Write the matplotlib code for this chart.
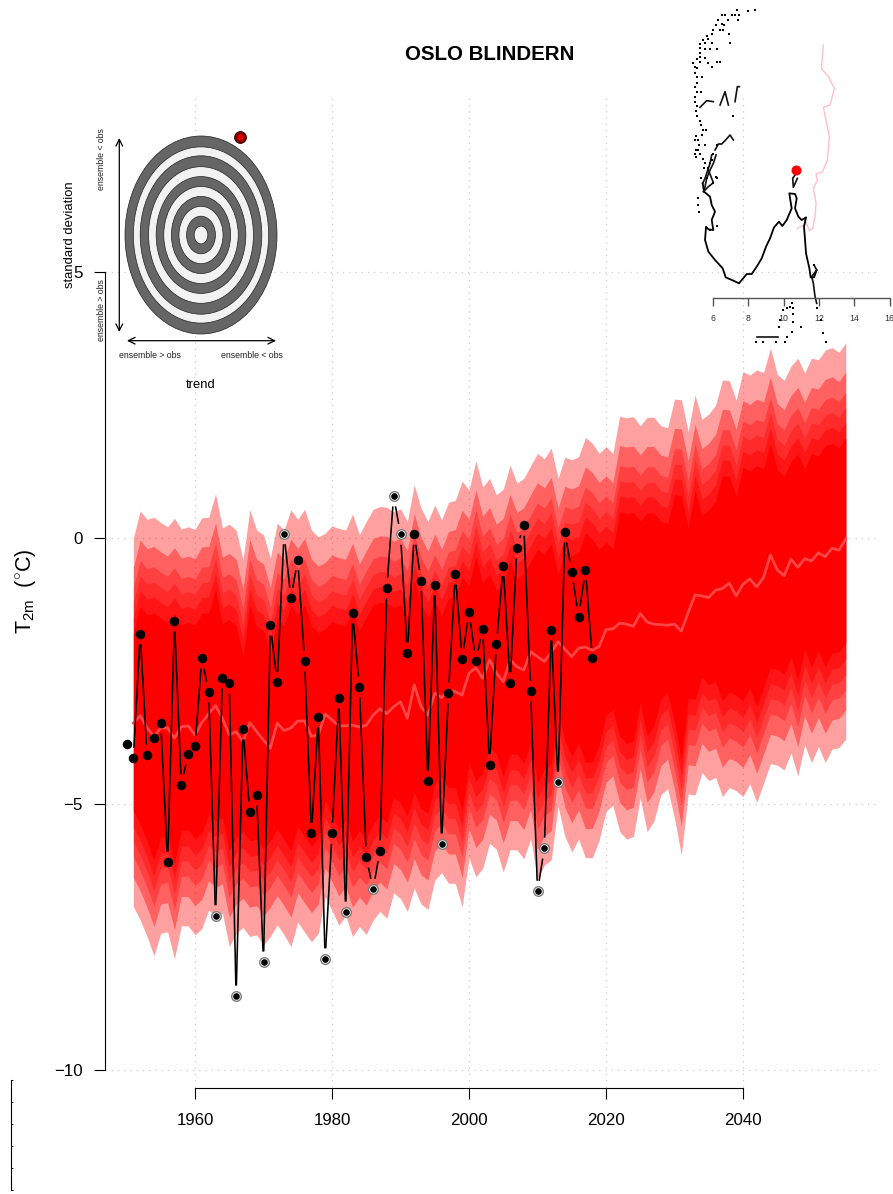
import numpy as np
import matplotlib
matplotlib.use("Agg")
import matplotlib.pyplot as plt
from matplotlib.patches import Ellipse

plt.rcParams['font.family'] = ['Liberation Sans', 'DejaVu Sans']
plt.rcParams['mathtext.fontset'] = 'custom'
plt.rcParams['mathtext.rm'] = 'Liberation Sans'

# ---------------------------------
# 1. Observations, 1950-2018
# ---------------------------------
obs_years = np.arange(1950, 2019)
obs = [-3.87, -4.14, -1.80, -4.08, -3.76, -3.48, -6.09, -1.56, -4.64, -4.06,
       -3.91, -2.26, -2.89, -7.10, -2.63, -2.73, -8.61, -3.59, -5.15, -4.83,
       -7.97, -1.64, -2.71, 0.08, -1.13, -0.41, -2.31, -5.55, -3.36, -7.91,
       -5.55, -3.01, -7.03, -1.41, -2.80, -6.00, -6.60, -5.88, -0.94, 0.79,
       0.07, -2.16, 0.07, -0.80, -4.57, -0.88, -5.75, -2.91, -0.68, -2.27,
       -1.39, -2.31, -1.71, -4.26, -1.99, -0.52, -2.72, -0.19, 0.24, -2.88,
       -6.64, -5.83, -1.73, -4.59, 0.11, -0.64, -1.48, -0.60, -2.26]
ringed_years = [1963, 1966, 1970, 1973, 1979, 1982, 1986, 1989, 1990, 1996, 2010, 2011, 2013]

# ---------------------------------
# 2. Ensemble bands, 1951-2055
# ---------------------------------
years = np.arange(1951, 2056)
ens_mean = [-3.48, -3.34, -3.57, -3.73, -3.57, -3.57, -3.76, -3.55, -3.53, -3.70,
            -3.47, -3.30, -3.15, -3.39, -3.70, -3.64, -3.83, -3.47, -3.64, -3.80,
            -3.95, -3.48, -3.62, -3.57, -3.44, -3.44, -3.73, -3.70, -3.31, -3.42,
            -3.53, -3.53, -3.52, -3.55, -3.52, -3.33, -3.21, -3.30, -3.17, -3.08,
            -3.39, -2.76, -3.17, -3.33, -2.92, -3.00, -2.86, -2.89, -2.95, -2.54,
            -2.44, -2.64, -2.29, -2.54, -2.70, -2.29, -2.42, -2.48, -2.14, -2.23,
            -2.32, -2.15, -1.95, -2.09, -2.23, -2.07, -2.05, -2.11, -2.04, -1.72,
            -1.71, -1.60, -1.62, -1.66, -1.42, -1.58, -1.62, -1.63, -1.64, -1.62,
            -1.75, -1.40, -1.07, -1.09, -1.12, -0.98, -0.95, -0.85, -1.09, -0.87,
            -0.77, -0.92, -0.74, -0.32, -0.60, -0.71, -0.40, -0.55, -0.39, -0.43,
            -0.28, -0.35, -0.19, -0.23, -0.02]

up1 = [0.00, 0.51, 0.35, 0.39, 0.29, 0.21, 0.37, 0.17, 0.21, 0.16,
       0.38, 0.39, 0.83, 0.19, 0.26, 0.15, -0.41, 0.53, 0.15, 0.06,
       -0.38, 0.28, 0.15, 0.53, 0.35, 0.54, 0.15, 0.02, 0.09, 0.23,
       0.18, 0.15, 0.45, 0.06, 0.31, 0.54, 0.59, 0.58, 0.49, 0.55,
       0.31, 1.00, 0.56, 0.31, 0.62, 0.34, 0.67, 0.71, 1.07, 0.90,
       1.45, 0.96, 1.12, 0.81, 0.92, 1.37, 1.03, 1.12, 1.36, 1.59,
       1.49, 1.69, 1.12, 1.52, 1.47, 1.53, 1.89, 1.78, 1.59, 1.72,
       1.59, 2.29, 2.26, 2.28, 2.11, 2.27, 2.27, 2.11, 2.07, 2.61,
       2.60, 2.00, 2.69, 2.23, 2.33, 2.50, 2.97, 2.96, 2.59, 3.13,
       3.06, 3.16, 3.11, 3.57, 3.08, 2.96, 3.23, 3.38, 3.10, 3.38,
       3.35, 3.53, 3.58, 3.49, 3.67]
up2 = [-0.55, -0.04, -0.20, -0.16, -0.26, -0.34, -0.18, -0.38, -0.34, -0.39,
       -0.17, -0.16, 0.28, -0.36, -0.29, -0.40, -0.96, -0.02, -0.40, -0.49,
       -0.93, -0.27, -0.40, -0.02, -0.20, -0.01, -0.40, -0.53, -0.46, -0.32,
       -0.37, -0.40, -0.10, -0.49, -0.24, -0.01, 0.04, 0.03, -0.06, 0.00,
       -0.24, 0.45, 0.01, -0.24, 0.07, -0.21, 0.12, 0.16, 0.52, 0.35,
       0.90, 0.41, 0.57, 0.26, 0.37, 0.82, 0.48, 0.57, 0.81, 1.04,
       0.94, 1.14, 0.57, 0.97, 0.92, 0.98, 1.34, 1.23, 1.04, 1.17,
       1.04, 1.74, 1.71, 1.73, 1.56, 1.72, 1.72, 1.56, 1.52, 2.06,
       2.05, 1.45, 2.14, 1.68, 1.78, 1.95, 2.42, 2.41, 2.04, 2.58,
       2.51, 2.61, 2.56, 3.02, 2.53, 2.41, 2.68, 2.83, 2.55, 2.83,
       2.80, 2.98, 3.03, 2.94, 3.12]
up3 = [-0.93, -0.42, -0.58, -0.54, -0.64, -0.72, -0.56, -0.76, -0.72, -0.77,
       -0.55, -0.54, -0.10, -0.74, -0.67, -0.78, -1.34, -0.40, -0.78, -0.87,
       -1.31, -0.65, -0.78, -0.40, -0.58, -0.39, -0.78, -0.91, -0.84, -0.70,
       -0.75, -0.78, -0.48, -0.87, -0.62, -0.39, -0.34, -0.35, -0.44, -0.38,
       -0.62, 0.07, -0.37, -0.62, -0.31, -0.59, -0.26, -0.22, 0.14, -0.03,
       0.52, 0.03, 0.19, -0.12, -0.01, 0.44, 0.10, 0.19, 0.43, 0.66,
       0.56, 0.76, 0.19, 0.59, 0.54, 0.60, 0.96, 0.85, 0.66, 0.79,
       0.66, 1.36, 1.33, 1.35, 1.18, 1.34, 1.34, 1.18, 1.14, 1.68,
       1.67, 1.07, 1.76, 1.30, 1.40, 1.57, 2.04, 2.03, 1.66, 2.20,
       2.13, 2.23, 2.18, 2.64, 2.15, 2.03, 2.30, 2.45, 2.17, 2.45,
       2.42, 2.60, 2.65, 2.56, 2.74]
up4 = [-1.22, -0.71, -0.87, -0.83, -0.93, -1.01, -0.85, -1.05, -1.01, -1.06,
       -0.84, -0.83, -0.39, -1.03, -0.96, -1.07, -1.63, -0.69, -1.07, -1.16,
       -1.60, -0.94, -1.07, -0.69, -0.87, -0.68, -1.07, -1.20, -1.13, -0.99,
       -1.04, -1.07, -0.77, -1.16, -0.91, -0.68, -0.63, -0.64, -0.73, -0.67,
       -0.91, -0.22, -0.66, -0.91, -0.60, -0.88, -0.55, -0.51, -0.15, -0.32,
       0.23, -0.26, -0.10, -0.41, -0.30, 0.15, -0.19, -0.10, 0.14, 0.37,
       0.27, 0.47, -0.10, 0.30, 0.25, 0.31, 0.67, 0.56, 0.37, 0.50,
       0.37, 1.07, 1.04, 1.06, 0.89, 1.05, 1.05, 0.89, 0.85, 1.39,
       1.38, 0.78, 1.47, 1.01, 1.11, 1.28, 1.75, 1.74, 1.37, 1.91,
       1.84, 1.94, 1.89, 2.35, 1.86, 1.74, 2.01, 2.16, 1.88, 2.16,
       2.13, 2.31, 2.36, 2.27, 2.45]
up5 = [-1.50, -0.99, -1.15, -1.11, -1.21, -1.29, -1.13, -1.33, -1.29, -1.34,
       -1.12, -1.11, -0.67, -1.31, -1.24, -1.35, -1.91, -0.97, -1.35, -1.44,
       -1.88, -1.22, -1.35, -0.97, -1.15, -0.96, -1.35, -1.48, -1.41, -1.27,
       -1.32, -1.35, -1.05, -1.44, -1.19, -0.96, -0.91, -0.92, -1.01, -0.95,
       -1.19, -0.50, -0.94, -1.19, -0.88, -1.16, -0.83, -0.79, -0.43, -0.60,
       -0.05, -0.54, -0.38, -0.69, -0.58, -0.13, -0.47, -0.38, -0.14, 0.09,
       -0.01, 0.19, -0.38, 0.02, -0.03, 0.03, 0.39, 0.28, 0.09, 0.22,
       0.09, 0.79, 0.76, 0.78, 0.61, 0.77, 0.77, 0.61, 0.57, 1.11,
       1.10, 0.50, 1.19, 0.73, 0.83, 1.00, 1.47, 1.46, 1.09, 1.63,
       1.56, 1.66, 1.61, 2.07, 1.58, 1.46, 1.73, 1.88, 1.60, 1.88,
       1.85, 2.03, 2.08, 1.99, 2.17]
up6 = [-1.80, -1.29, -1.45, -1.41, -1.51, -1.59, -1.43, -1.63, -1.59, -1.64,
       -1.42, -1.41, -0.97, -1.61, -1.54, -1.65, -2.21, -1.27, -1.65, -1.74,
       -2.18, -1.52, -1.65, -1.27, -1.45, -1.26, -1.65, -1.78, -1.71, -1.57,
       -1.62, -1.65, -1.35, -1.74, -1.49, -1.26, -1.21, -1.22, -1.31, -1.25,
       -1.49, -0.80, -1.24, -1.49, -1.18, -1.46, -1.13, -1.09, -0.73, -0.90,
       -0.35, -0.84, -0.68, -0.99, -0.88, -0.43, -0.77, -0.68, -0.44, -0.21,
       -0.31, -0.11, -0.68, -0.28, -0.33, -0.27, 0.09, -0.02, -0.21, -0.08,
       -0.21, 0.49, 0.46, 0.48, 0.31, 0.47, 0.47, 0.31, 0.27, 0.81,
       0.80, 0.20, 0.89, 0.43, 0.53, 0.70, 1.17, 1.16, 0.79, 1.33,
       1.26, 1.36, 1.31, 1.77, 1.28, 1.16, 1.43, 1.58, 1.30, 1.58,
       1.55, 1.73, 1.78, 1.69, 1.87]

lo1 = [-6.93, -7.18, -7.49, -7.85, -7.43, -7.40, -7.91, -7.29, -7.29, -7.46,
       -7.34, -6.99, -7.12, -7.05, -7.68, -7.43, -7.32, -7.49, -7.46, -7.65,
       -7.49, -7.27, -7.46, -7.68, -7.22, -7.41, -7.59, -7.43, -6.74, -7.00,
       -7.28, -7.10, -7.49, -7.30, -7.45, -7.18, -7.02, -7.15, -6.67, -6.78,
       -7.02, -6.58, -6.88, -6.98, -6.43, -6.29, -6.49, -6.49, -6.93, -6.01,
       -6.37, -6.21, -5.74, -5.85, -6.28, -5.86, -5.86, -6.03, -5.65, -6.40,
       -6.15, -6.05, -5.04, -5.61, -5.90, -5.66, -6.01, -6.01, -5.68, -5.14,
       -5.02, -5.52, -5.66, -5.61, -4.89, -5.52, -5.32, -4.83, -4.71, -5.27,
       -5.96, -4.81, -4.83, -4.41, -4.56, -4.50, -4.86, -4.69, -4.75, -4.86,
       -4.62, -4.97, -4.61, -4.24, -4.27, -4.36, -4.04, -4.47, -3.89, -4.22,
       -3.92, -4.22, -3.97, -3.94, -3.78]
lo2 = [-6.38, -6.63, -6.94, -7.30, -6.88, -6.85, -7.36, -6.74, -6.74, -6.91,
       -6.79, -6.44, -6.57, -6.50, -7.13, -6.88, -6.77, -6.94, -6.91, -7.10,
       -6.94, -6.72, -6.91, -7.13, -6.67, -6.86, -7.04, -6.88, -6.19, -6.45,
       -6.73, -6.55, -6.94, -6.75, -6.90, -6.63, -6.47, -6.60, -6.12, -6.23,
       -6.47, -6.03, -6.33, -6.43, -5.88, -5.74, -5.94, -5.94, -6.38, -5.46,
       -5.82, -5.66, -5.19, -5.30, -5.73, -5.31, -5.31, -5.48, -5.10, -5.85,
       -5.60, -5.50, -4.49, -5.06, -5.35, -5.11, -5.46, -5.46, -5.13, -4.59,
       -4.47, -4.97, -5.11, -5.06, -4.34, -4.97, -4.77, -4.28, -4.16, -4.72,
       -5.41, -4.26, -4.28, -3.86, -4.01, -3.95, -4.31, -4.14, -4.20, -4.31,
       -4.07, -4.42, -4.06, -3.69, -3.72, -3.81, -3.49, -3.92, -3.34, -3.67,
       -3.37, -3.67, -3.42, -3.39, -3.23]
lo3 = [-6.00, -6.25, -6.56, -6.92, -6.50, -6.47, -6.98, -6.36, -6.36, -6.53,
       -6.41, -6.06, -6.19, -6.12, -6.75, -6.50, -6.39, -6.56, -6.53, -6.72,
       -6.56, -6.34, -6.53, -6.75, -6.29, -6.48, -6.66, -6.50, -5.81, -6.07,
       -6.35, -6.17, -6.56, -6.37, -6.52, -6.25, -6.09, -6.22, -5.74, -5.85,
       -6.09, -5.65, -5.95, -6.05, -5.50, -5.36, -5.56, -5.56, -6.00, -5.08,
       -5.44, -5.28, -4.81, -4.92, -5.35, -4.93, -4.93, -5.10, -4.72, -5.47,
       -5.22, -5.12, -4.11, -4.68, -4.97, -4.73, -5.08, -5.08, -4.75, -4.21,
       -4.09, -4.59, -4.73, -4.68, -3.96, -4.59, -4.39, -3.90, -3.78, -4.34,
       -5.03, -3.88, -3.90, -3.48, -3.63, -3.57, -3.93, -3.76, -3.82, -3.93,
       -3.69, -4.04, -3.68, -3.31, -3.34, -3.43, -3.11, -3.54, -2.96, -3.29,
       -2.99, -3.29, -3.04, -3.01, -2.85]
lo4 = [-5.71, -5.96, -6.27, -6.63, -6.21, -6.18, -6.69, -6.07, -6.07, -6.24,
       -6.12, -5.77, -5.90, -5.83, -6.46, -6.21, -6.10, -6.27, -6.24, -6.43,
       -6.27, -6.05, -6.24, -6.46, -6.00, -6.19, -6.37, -6.21, -5.52, -5.78,
       -6.06, -5.88, -6.27, -6.08, -6.23, -5.96, -5.80, -5.93, -5.45, -5.56,
       -5.80, -5.36, -5.66, -5.76, -5.21, -5.07, -5.27, -5.27, -5.71, -4.79,
       -5.15, -4.99, -4.52, -4.63, -5.06, -4.64, -4.64, -4.81, -4.43, -5.18,
       -4.93, -4.83, -3.82, -4.39, -4.68, -4.44, -4.79, -4.79, -4.46, -3.92,
       -3.80, -4.30, -4.44, -4.39, -3.67, -4.30, -4.10, -3.61, -3.49, -4.05,
       -4.74, -3.59, -3.61, -3.19, -3.34, -3.28, -3.64, -3.47, -3.53, -3.64,
       -3.40, -3.75, -3.39, -3.02, -3.05, -3.14, -2.82, -3.25, -2.67, -3.00,
       -2.70, -3.00, -2.75, -2.72, -2.56]
lo5 = [-5.43, -5.68, -5.99, -6.35, -5.93, -5.90, -6.41, -5.79, -5.79, -5.96,
       -5.84, -5.49, -5.62, -5.55, -6.18, -5.93, -5.82, -5.99, -5.96, -6.15,
       -5.99, -5.77, -5.96, -6.18, -5.72, -5.91, -6.09, -5.93, -5.24, -5.50,
       -5.78, -5.60, -5.99, -5.80, -5.95, -5.68, -5.52, -5.65, -5.17, -5.28,
       -5.52, -5.08, -5.38, -5.48, -4.93, -4.79, -4.99, -4.99, -5.43, -4.51,
       -4.87, -4.71, -4.24, -4.35, -4.78, -4.36, -4.36, -4.53, -4.15, -4.90,
       -4.65, -4.55, -3.54, -4.11, -4.40, -4.16, -4.51, -4.51, -4.18, -3.64,
       -3.52, -4.02, -4.16, -4.11, -3.39, -4.02, -3.82, -3.33, -3.21, -3.77,
       -4.46, -3.31, -3.33, -2.91, -3.06, -3.00, -3.36, -3.19, -3.25, -3.36,
       -3.12, -3.47, -3.11, -2.74, -2.77, -2.86, -2.54, -2.97, -2.39, -2.72,
       -2.42, -2.72, -2.47, -2.44, -2.28]
lo6 = [-5.13, -5.38, -5.69, -6.05, -5.63, -5.60, -6.11, -5.49, -5.49, -5.66,
       -5.54, -5.19, -5.32, -5.25, -5.88, -5.63, -5.52, -5.69, -5.66, -5.85,
       -5.69, -5.47, -5.66, -5.88, -5.42, -5.61, -5.79, -5.63, -4.94, -5.20,
       -5.48, -5.30, -5.69, -5.50, -5.65, -5.38, -5.22, -5.35, -4.87, -4.98,
       -5.22, -4.78, -5.08, -5.18, -4.63, -4.49, -4.69, -4.69, -5.13, -4.21,
       -4.57, -4.41, -3.94, -4.05, -4.48, -4.06, -4.06, -4.23, -3.85, -4.60,
       -4.35, -4.25, -3.24, -3.81, -4.10, -3.86, -4.21, -4.21, -3.88, -3.34,
       -3.22, -3.72, -3.86, -3.81, -3.09, -3.72, -3.52, -3.03, -2.91, -3.47,
       -4.16, -3.01, -3.03, -2.61, -2.76, -2.70, -3.06, -2.89, -2.95, -3.06,
       -2.82, -3.17, -2.81, -2.44, -2.47, -2.56, -2.24, -2.67, -2.09, -2.42,
       -2.12, -2.42, -2.17, -2.14, -1.98]

# ---------------------------------
# 3. Target inset and map outline
# ---------------------------------
ring_fracs = [1.0, 0.89, 0.80, 0.69, 0.59, 0.49, 0.39, 0.29, 0.19, 0.09]
ring_colors = ['#666666', '#f2f2f2'] * 5

# digitised map, in 3x pixels of the map corner
coast_x = [68, 72, 90, 95, 105, 95, 100, 85, 78, 75, 85, 105, 128, 137, 160, 177, 200,
           215, 230, 245, 258, 270, 282, 297, 307, 320, 335, 330, 328, 345, 350, 345,
           355, 365, 378, 372, 375, 378, 388, 392, 402, 410]
coast_y = [550, 575, 590, 615, 635, 660, 690, 688, 680, 720, 755, 780, 805, 832, 842, 850,
           822, 822, 800, 775, 740, 715, 682, 665, 678, 660, 625, 595, 580, 582, 595,
           625, 650, 660, 652, 680, 720, 760, 805, 832, 832, 810]
fjord_lines = [
    ([120, 135, 145], [315, 275, 315]),
    ([165, 172, 178], [305, 260, 260]),
    ([60, 80, 100], [322, 302, 305]),
    ([105, 115, 125, 135, 150, 160], [450, 432, 432, 422, 405, 420]),
    ([95, 90, 75, 68], [465, 490, 535, 550]),
    ([108, 100, 90, 80, 72], [465, 490, 510, 535, 575]),
    ([85, 100, 85, 70], [510, 548, 560, 575]),
    ([345, 338, 340, 352], [525, 535, 562, 535]),
    ([402, 410, 395, 400, 405, 410], [795, 810, 830, 850, 890, 910]),
    ([232, 295], [1010, 1010]),
]
island_x = [170, 205, 225, 125, 135, 155, 165, 178, 115, 145, 175, 108, 125, 132, 100, 120,
            128, 95, 148, 80, 70, 85, 150, 60, 75, 95, 60, 75, 90, 110, 60, 60, 50, 75, 40,
            60, 85, 110, 120, 45, 52, 95, 45, 52, 65, 50, 45, 50, 62, 45, 45, 52, 48, 160,
            52, 60, 62, 70, 78, 65, 48, 55, 45, 75, 58, 110, 48, 55, 60, 45, 48, 100, 95,
            70, 75, 90, 72, 85, 62, 80, 110, 55, 55, 58, 108, 100, 110, 90,
            412, 422, 428, 438, 335, 330, 320, 308, 338, 300, 298, 340, 338, 335, 320, 362,
            228, 248, 288, 315, 402]
island_y = [30, 32, 31, 44, 44, 46, 44, 44, 60, 60, 60, 75, 72, 75, 90, 90,
            90, 102, 102, 108, 120, 118, 130, 132, 130, 130, 145, 147, 147, 147, 160, 172,
            178, 175, 188, 185, 188, 187, 187, 200, 203, 200, 218, 230, 232, 248, 260, 275,
            275, 292, 305, 318, 332, 347, 347, 362, 375, 390, 390, 405, 407, 420, 420, 435,
            435, 435, 450, 450, 462, 462, 470, 462, 480, 478, 490, 490, 505, 505, 535, 535,
            533, 595, 615, 635, 532, 548, 678, 690,
            925, 960, 1000, 1025, 908, 920, 925, 930, 925, 960, 980, 942, 965, 995, 1010, 980,
            1025, 1025, 1025, 1025, 795]
border_x = [430, 424, 445, 463, 450, 430, 448, 442, 428, 408, 412, 400, 408, 405, 398, 388, 375, 372, 352]
border_y = [135, 205, 230, 265, 315, 322, 410, 480, 515, 522, 540, 565, 610, 650, 685, 692, 660, 675, 685]

map_ticks = [6, 8, 10, 12, 14, 16]
station_lon, station_lat = 10.72, 59.94


def to_lon(z):
    return 6 + (np.array(z) - 98) / 53.1


def to_lat(z):
    return 59.94 - (np.array(z) / 3 - 170) / 57.6


# ---------------------------------
# 4. Main panel
# ---------------------------------
fig = plt.figure(figsize=(8.93, 11.94), dpi=100)
ax = fig.add_axes([0, 0, 1, 1])
ax.set_xlim(1960 - 195 / 6.85, 1960 + 698 / 6.85)
ax.set_ylim(-656 / 53.2, 538 / 53.2)

for gx in range(1960, 2041, 20):
    ax.plot([gx, gx], [-10.32, 8.35], color='#cccccc', lw=0.9, ls=(0, (1, 4)), zorder=1)
for gy in [-10, -5, 0, 5]:
    ax.plot([1946.9, 2059.2], [gy, gy], color='#cccccc', lw=0.9, ls=(0, (1, 4)), zorder=1)

ax.fill_between(years, lo1, up1, color='red', alpha=0.373, lw=0, zorder=2)
ax.fill_between(years, lo2, up2, color='red', alpha=0.40, lw=0, zorder=2)
ax.fill_between(years, lo3, up3, color='red', alpha=0.335, lw=0, zorder=2)
ax.fill_between(years, lo4, up4, color='red', alpha=0.34, lw=0, zorder=2)
ax.fill_between(years, lo5, up5, color='red', alpha=0.485, lw=0, zorder=2)
ax.fill_between(years, lo6, up6, color='red', lw=0, zorder=2)
ax.plot(years, ens_mean, color='#ff4545', lw=2.0, zorder=3)

# type="b" line: segments stop short of the points
fig.canvas.draw()
pts = ax.transData.transform(np.column_stack([obs_years, obs]))
gap = 10.5
inv = ax.transData.inverted()
for a, b in zip(pts[:-1], pts[1:]):
    d = np.hypot(*(b - a))
    if d <= 2 * gap:
        continue
    u = (b - a) / d
    seg = inv.transform(np.array([a + u * gap, b - u * gap]))
    ax.plot(seg[:, 0], seg[:, 1], color='black', lw=1.15, zorder=4, solid_capstyle='butt')

ax.scatter(obs_years, obs, s=47, color='black', lw=0, zorder=5)
ring_obs = [obs[y - 1950] for y in ringed_years]
ax.scatter(ringed_years, ring_obs, s=62, color='#7c7c7c', lw=0, zorder=6)
ax.scatter(ringed_years, ring_obs, s=35, color='white', lw=0, zorder=6)
ax.scatter(ringed_years, ring_obs, s=23, color='black', lw=0, zorder=6)

for side in ['top', 'right']:
    ax.spines[side].set_visible(False)
ax.spines['left'].set_position(('data', 1946.9))
ax.spines['left'].set_bounds(-10, 5)
ax.spines['bottom'].set_position(('data', -10.33))
ax.spines['bottom'].set_bounds(1960, 2040)
ax.set_xticks(range(1960, 2041, 20))
ax.set_yticks([-10, -5, 0, 5])
ax.tick_params(axis='x', length=8, width=0.8, labelsize=12.2, pad=10)
ax.tick_params(axis='y', length=8, width=0.8, labelsize=12.2, pad=8)

fig.text(26 / 893, 1 - 591 / 1194, r'$\mathrm{T}_{2\mathrm{m}}$  ($^{\circ}$C)', rotation=90,
         ha='center', va='center', fontsize=15.5)
fig.text(490 / 893, 1 - 54.5 / 1194, 'OSLO BLINDERN', ha='center', va='center',
         fontsize=14.8, fontweight='bold')

# ---------------------------------
# 5. Target inset (drawn in pixels)
# ---------------------------------
ov = fig.add_axes([0, 0, 1, 1], facecolor='none')
ov.set_xlim(0, 893)
ov.set_ylim(1194, 0)
ov.axis('off')
for frac, col in zip(ring_fracs, ring_colors):
    ov.add_patch(Ellipse((201, 235), 152 * frac, 198 * frac, facecolor=col, edgecolor='#222222', lw=0.5))
ov.scatter([240], [137], s=70, color='#8c0000', edgecolor='#300000', lw=0.8, zorder=5)
ov.scatter([240], [137], s=18, color='#e00000', lw=0, zorder=6)
ov.annotate('', xy=(119.3, 138), xytext=(119.3, 332),
            arrowprops=dict(arrowstyle='<->', color='black', lw=0.9, mutation_scale=12, shrinkA=0, shrinkB=0))
ov.annotate('', xy=(127, 340.7), xytext=(276, 340.7),
            arrowprops=dict(arrowstyle='<->', color='black', lw=0.9, mutation_scale=12, shrinkA=0, shrinkB=0))
ov.text(150, 355.5, 'ensemble > obs', fontsize=6.3, ha='center', va='center', color='#222222')
ov.text(251.7, 355.5, 'ensemble < obs', fontsize=6.3, ha='center', va='center', color='#222222')
ov.text(102, 159, 'ensemble < obs', fontsize=6.3, ha='center', va='center', rotation=90, color='#222222')
ov.text(102, 310, 'ensemble > obs', fontsize=6.3, ha='center', va='center', rotation=90, color='#222222')
ov.text(70, 235, 'standard deviation', fontsize=9.4, ha='center', va='center', rotation=90)
ov.text(201, 385, 'trend', fontsize=9.4, ha='center', va='center')

# ---------------------------------
# 6. Map inset
# ---------------------------------
lon0, lon1 = 4.0, 17.0
lat0, lat1 = to_lat(1080), to_lat(0)
left = 712.7 + (lon0 - 6) * 17.7
mp = fig.add_axes([left / 893, 1 - 360 / 1194, (lon1 - lon0) * 17.7 / 893, 360 / 1194], facecolor='none')
mp.set_xlim(lon0, lon1)
mp.set_ylim(lat0, lat1)
mp.plot(to_lon(border_x), to_lat(border_y), color='#ffc0cb', lw=1.0)
mp.plot(to_lon(coast_x), to_lat(coast_y), color='black', lw=1.3)
for lx, ly in fjord_lines:
    mp.plot(to_lon(lx), to_lat(ly), color='#111111', lw=1.2)
mp.plot(to_lon(island_x), to_lat(island_y), ls='none', marker='s', ms=2.0, color='black', mew=0)
mp.scatter([station_lon], [station_lat], s=52, color='red', lw=0, zorder=5)
for side in ['top', 'right', 'left']:
    mp.spines[side].set_visible(False)
mp.spines['bottom'].set_position(('data', float(to_lat(894))))
mp.spines['bottom'].set_bounds(6, 16)
mp.spines['bottom'].set_color('#555555')
mp.spines['bottom'].set_linewidth(1.0)
mp.set_yticks([])
mp.set_xticks(map_ticks)
mp.tick_params(axis='x', length=5.5, width=1.0, color='#555555', labelcolor='#333333', labelsize=6.3, pad=6)

# ---------------------------------
# 7. Colour-key axis, bottom left
# ---------------------------------
key = fig.add_axes([10.7 / 893, 4 / 1194, 10 / 893, 110 / 1194], facecolor='none')
key.set_ylim(0, 5)
key.set_xticks([])
key.set_yticks(range(6))
key.tick_params(axis='y', direction='in', length=1.5, width=0.7, labelleft=False)
for side in ['top', 'right', 'bottom']:
    key.spines[side].set_visible(False)
key.spines['left'].set_linewidth(0.8)

plt.savefig('out.png', dpi=100)
